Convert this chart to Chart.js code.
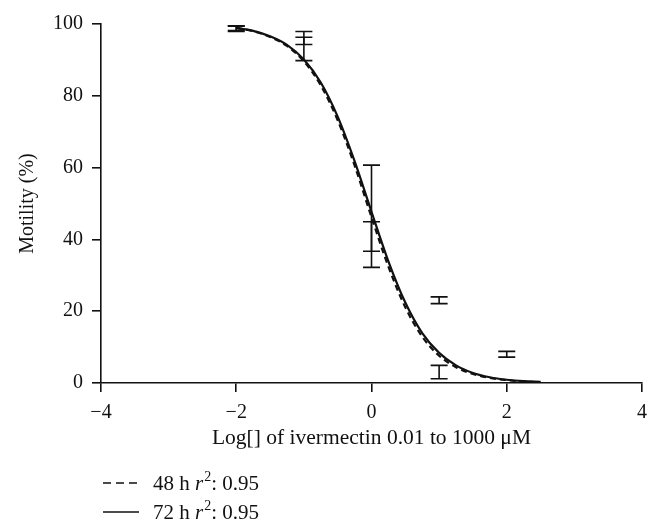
<!DOCTYPE html>
<html>
<head>
<meta charset="utf-8">
<script src="https://cdn.jsdelivr.net/npm/chart.js@4/dist/chart.umd.min.js"></script>
<style>
  html, body { margin: 0; padding: 0; background: #fff; }
  #wrap { width: 660px; height: 531px; }
</style>
</head>
<body>
<div id="wrap"><canvas id="motilityChart"></canvas></div>
<script>
// 曲線資料 (log 濃度 / 運動性 %)
const logDose = [-2, -1.75, -1.5, -1.25, -1, -0.75, -0.5, -0.25, 0, 0.25, 0.5, 0.75, 1, 1.25, 1.5, 1.75, 2, 2.25, 2.5];
const motility48 = [98.9, 98.0, 96.4, 93.9, 89.6, 82.9, 73.2, 60.6, 46.2, 32.4, 21.1, 12.9, 7.6, 4.4, 2.5, 1.4, 0.8, 0.4, 0.2];
const motility72 = [98.9, 98.1, 96.6, 94.2, 90.1, 83.7, 74.2, 61.8, 47.7, 33.9, 22.4, 13.9, 8.4, 4.9, 2.8, 1.6, 0.9, 0.5, 0.3];

// 誤差線
const barDose = [-2, -1, 0, 1, 2];
const err48Low = [97.9, 89.8, 36.7, 22.1, null];
const err48High = [99.4, 96.3, 60.7, 24.0, null];
const err72Low = [98.2, 94.3, 32.2, 1.2, 7.2];
const err72High = [99.5, 97.9, 44.9, 4.9, 8.8];

const xTicks = [-4, -2, 0, 2, 4];
const yTicks = [0, 20, 40, 60, 80, 100];

const legendItems = [
    { hours: '48 h ', r2: ': 0.95', dash: [8, 5] },
    { hours: '72 h ', r2: ': 0.95', dash: [] }
];

const serif = '"Liberation Serif", "Times New Roman", serif';

const errorBars = {
    id: 'errorBars',
    afterDatasetsDraw(chart) {
        const { ctx, scales: { x, y } } = chart;
        ctx.save();
        ctx.strokeStyle = '#111';
        ctx.lineWidth = 1.6;
        const draw = (lows, highs) => {
            barDose.forEach((d, i) => {
                if (lows[i] == null) return;
                const px = x.getPixelForValue(d);
                const y1 = y.getPixelForValue(lows[i]);
                const y2 = y.getPixelForValue(highs[i]);
                ctx.beginPath();
                ctx.moveTo(px, y1); ctx.lineTo(px, y2);
                ctx.moveTo(px - 8.5, y1); ctx.lineTo(px + 8.5, y1);
                ctx.moveTo(px - 8.5, y2); ctx.lineTo(px + 8.5, y2);
                ctx.stroke();
            });
        };
        draw(err48Low, err48High);
        draw(err72Low, err72High);
        ctx.restore();
    }
};

// 圖例 (r 斜體, 2 上標)
const customLegend = {
    id: 'customLegend',
    afterDraw(chart) {
        const ctx = chart.ctx;
        ctx.save();
        ctx.fillStyle = '#111';
        ctx.strokeStyle = '#111';
        ctx.textBaseline = 'alphabetic';
        legendItems.forEach((item, i) => {
            const cy = 483 + i * 29;
            ctx.lineWidth = 1.6;
            ctx.setLineDash(item.dash);
            ctx.beginPath();
            ctx.moveTo(103, cy);
            ctx.lineTo(139, cy);
            ctx.stroke();
            ctx.setLineDash([]);
            let tx = 153;
            const base = cy + 7;
            ctx.font = '21px ' + serif;
            ctx.fillText(item.hours, tx, base);
            tx += ctx.measureText(item.hours).width;
            ctx.font = 'italic 21px ' + serif;
            ctx.fillText('r', tx, base);
            tx += ctx.measureText('r').width + 1;
            ctx.font = '14px ' + serif;
            ctx.fillText('2', tx, base - 9);
            tx += ctx.measureText('2').width;
            ctx.font = '21px ' + serif;
            ctx.fillText(item.r2, tx, base);
        });
        ctx.restore();
    }
};

const ctx = document.getElementById('motilityChart').getContext('2d');

const chart = new Chart(ctx, {
    type: 'line',
    data: {
        labels: logDose,
        datasets: [{
            label: '48 h',
            data: logDose.map((d, i) => ({ x: d, y: motility48[i] })),
            borderColor: '#111',
            borderWidth: 2.2,
            borderDash: [6, 4],
            pointRadius: 0,
            cubicInterpolationMode: 'monotone',
            fill: false
        }, {
            label: '72 h',
            data: logDose.map((d, i) => ({ x: d, y: motility72[i] })),
            borderColor: '#111',
            borderWidth: 2.2,
            pointRadius: 0,
            cubicInterpolationMode: 'monotone',
            fill: false
        }]
    },
    options: {
        responsive: true,
        maintainAspectRatio: false,
        animation: false,
        layout: { padding: { top: 24, right: 18, left: 0, bottom: 0 } },
        scales: {
            x: {
                type: 'linear',
                min: -4,
                max: 4,
                afterFit: s => { s.height = 148; },
                afterBuildTicks: s => { s.ticks = xTicks.map(v => ({ value: v })); },
                grid: { drawOnChartArea: false, color: '#111', tickLength: 9, lineWidth: 1.6 },
                border: { color: '#111', width: 1.6 },
                ticks: {
                    color: '#111',
                    padding: 9,
                    font: { family: serif, size: 20 },
                    callback: v => v < 0 ? '\u2212' + Math.abs(v) : String(v)
                },
                title: {
                    display: true,
                    text: 'Log[] of ivermectin 0.01 to 1000 \u03bcM',
                    color: '#111',
                    font: { family: serif, size: 21.5 },
                    padding: { top: 0, bottom: 80 }
                }
            },
            y: {
                min: 0,
                max: 100,
                afterFit: s => { s.width = 101; },
                afterBuildTicks: s => { s.ticks = yTicks.map(v => ({ value: v })); },
                grid: { drawOnChartArea: false, color: '#111', tickLength: 9, lineWidth: 1.6 },
                border: { color: '#111', width: 1.6 },
                ticks: {
                    color: '#111',
                    padding: 9,
                    font: { family: serif, size: 20 }
                },
                title: {
                    display: true,
                    text: 'Motility (%)',
                    color: '#111',
                    font: { family: serif, size: 20 },
                    padding: { top: 16, bottom: 0 }
                }
            }
        },
        plugins: {
            legend: { display: false },
            tooltip: { enabled: false }
        }
    },
    plugins: [errorBars, customLegend]
});
</script>
</body>
</html>
